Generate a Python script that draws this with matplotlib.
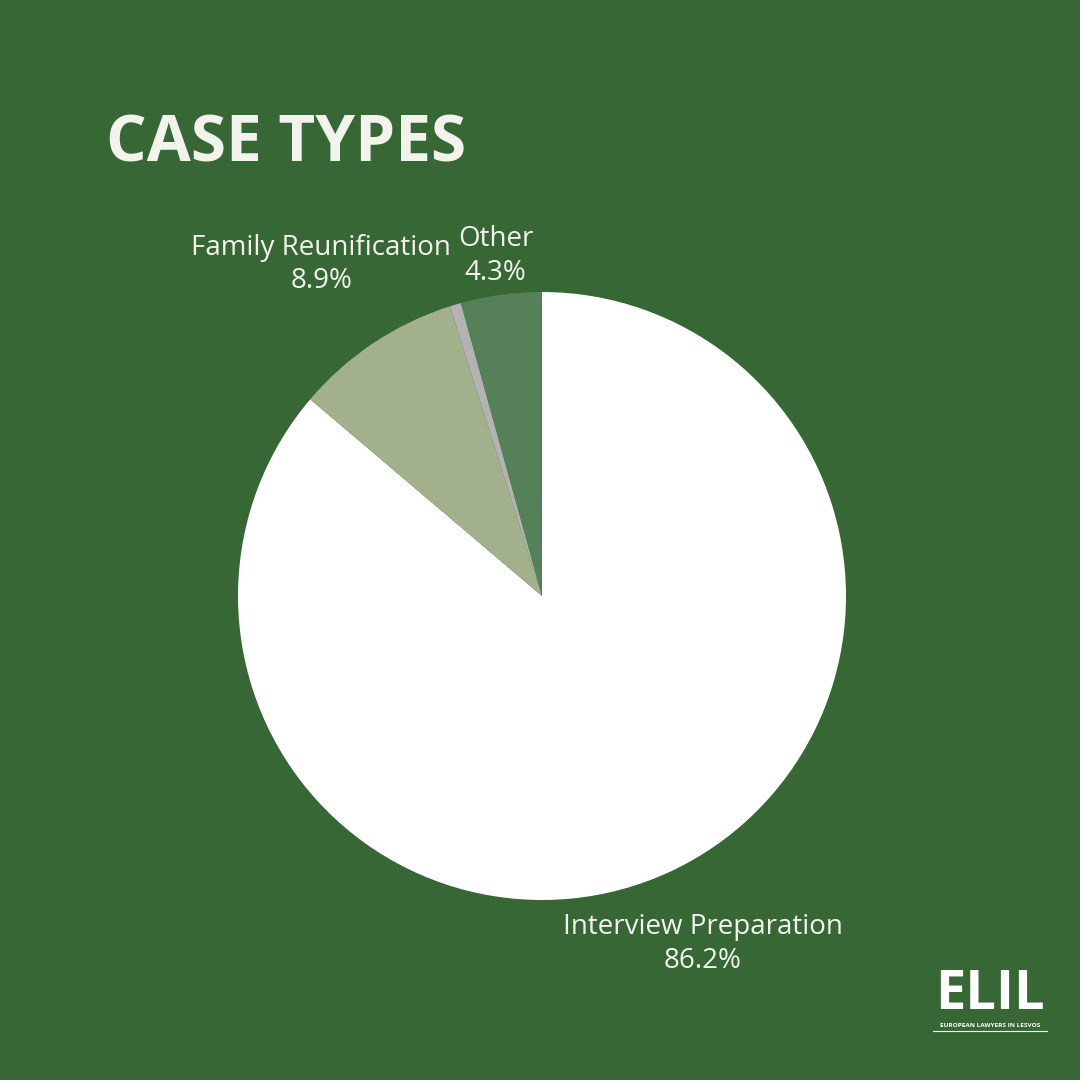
import matplotlib.pyplot as plt
import numpy as np

# Данные
categories = ['Interview Preparation', 'Family Reunification', '', 'Other']
shares = [86.2, 8.9, 0.6, 4.3]
pct_labels = ['86.2%', '8.9%', '', '4.3%']
colors = ['#ffffff', '#a3b08c', '#b3b3b3', '#558058']
label_dist = [1.26, 1.31, None, 1.13]

BG = '#366735'
TXT = '#f3f3ee'

fig = plt.figure(figsize=(10.8, 10.8), dpi=100, facecolor=BG)

# Заголовок
fig.text(106 / 1080, 1 - 162 / 1080, 'CASE TYPES', color=TXT, fontsize=46,
         fontweight='bold', family=['Open Sans', 'DejaVu Sans'], va='baseline', ha='left')

# Круговая диаграмма
ax = fig.add_axes([238 / 1080, (1080 - 596 - 304) / 1080, 608 / 1080, 608 / 1080])
ax.set_facecolor(BG)
wedges, _ = ax.pie(shares, colors=colors, startangle=90, counterclock=False,
                   wedgeprops=dict(linewidth=0))
ax.set_xlim(-1, 1)
ax.set_ylim(-1, 1)
ax.set_aspect('equal')
ax.axis('off')

# Подписи секторов
for w, name, pct, d in zip(wedges, categories, pct_labels, label_dist):
    if d is None:
        continue
    ang = np.deg2rad((w.theta1 + w.theta2) / 2)
    x, y = d * np.cos(ang), d * np.sin(ang)
    ax.text(x, y, name + '\n' + pct, ha='center', va='center', color=TXT,
            fontsize=20, fontweight='normal', family=['Open Sans', 'DejaVu Sans'],
            linespacing=1.28, clip_on=False)

# Логотип
fig.text(990 / 1080, 1 - 1009 / 1080, 'ELIL', color='white', fontsize=39,
         fontweight='bold', family=['Open Sans', 'DejaVu Sans'], ha='center', va='baseline')
fig.text(990 / 1080, 1 - 1027 / 1080, 'EUROPEAN LAWYERS IN LESVOS', color='white',
         fontsize=4.6, fontweight='bold', family=['Open Sans', 'DejaVu Sans'],
         ha='center', va='baseline')
fig.add_artist(plt.Line2D([933 / 1080, 1047 / 1080], [1 - 1031 / 1080, 1 - 1031 / 1080],
                          color='white', linewidth=0.8))

fig.savefig('out.png', dpi=100, facecolor=BG)
